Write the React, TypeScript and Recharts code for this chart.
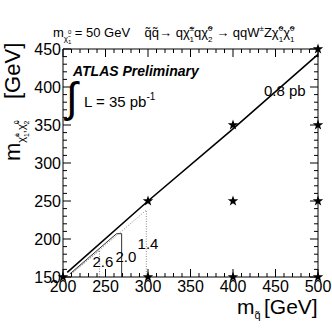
import React from "react";
import { ComposedChart, XAxis, YAxis, Line, Scatter } from "recharts";

const FONT = "'Liberation Sans', Arial, Helvetica, sans-serif";

// axis ticks (major ones carry labels)
const xMajor = [200, 250, 300, 350, 400, 450, 500];
const xTicks = [
  200, 210, 220, 230, 240, 250, 260, 270, 280, 290, 300, 310, 320, 330, 340, 350,
  360, 370, 380, 390, 400, 410, 420, 430, 440, 450, 460, 470, 480, 490, 500,
];
const yMajor = [150, 200, 250, 300, 350, 400, 450];
const yTicks = [
  150, 160, 170, 180, 190, 200, 210, 220, 230, 240, 250, 260, 270, 280, 290, 300,
  310, 320, 330, 340, 350, 360, 370, 380, 390, 400, 410, 420, 430, 440, 450,
];

// signal grid points (stars)
const gridPoints = [
  { x: 200, y: 150 },
  { x: 300, y: 150 },
  { x: 400, y: 150 },
  { x: 500, y: 150 },
  { x: 300, y: 250 },
  { x: 400, y: 250 },
  { x: 500, y: 250 },
  { x: 400, y: 350 },
  { x: 500, y: 350 },
  { x: 500, y: 450 },
];

// cross-section contours
const contour08 = [
  { x: 205, y: 156 },
  { x: 300, y: 250 },
  { x: 400, y: 345 },
  { x: 500, y: 443 },
];
const contour26 = [
  { x: 243, y: 150 },
  { x: 243, y: 185 },
  { x: 208, y: 153 },
];
const contour20 = [
  { x: 269, y: 150 },
  { x: 269, y: 207 },
  { x: 263, y: 207 },
  { x: 208, y: 154 },
];
const contour14 = [
  { x: 298, y: 150 },
  { x: 298, y: 238 },
  { x: 210, y: 154 },
];

const contourLabels = [
  { x: 247, y: 170, text: "2.6" },
  { x: 274, y: 176, text: "2.0" },
  { x: 300, y: 193, text: "1.4" },
  { x: 461, y: 395, text: "0.8 pb" },
];

const BottomTick = (props: any) => {
  const { x, y, payload } = props;
  const major = xMajor.includes(payload.value);
  return (
    <g>
      <line x1={x} x2={x} y1={y} y2={y - (major ? 8 : 4)} stroke="#000" />
      {major && (
        <text x={x} y={y + 15} textAnchor="middle" fontSize={16} fontFamily={FONT} fill="#000">
          {payload.value}
        </text>
      )}
    </g>
  );
};

const TopTick = (props: any) => {
  const { x, y, payload } = props;
  const major = xMajor.includes(payload.value);
  return <line x1={x} x2={x} y1={y} y2={y + (major ? 8 : 4)} stroke="#000" />;
};

const LeftTick = (props: any) => {
  const { x, y, payload } = props;
  const major = yMajor.includes(payload.value);
  return (
    <g>
      <line x1={x} x2={x + (major ? 8 : 4)} y1={y} y2={y} stroke="#000" />
      {major && (
        <text x={x - 2} y={y + 6} textAnchor="end" fontSize={16} fontFamily={FONT} fill="#000">
          {payload.value}
        </text>
      )}
    </g>
  );
};

const RightTick = (props: any) => {
  const { x, y, payload } = props;
  const major = yMajor.includes(payload.value);
  return <line x1={x} x2={x - (major ? 8 : 4)} y1={y} y2={y} stroke="#000" />;
};

const Star = (props: any) => {
  const { cx, cy } = props;
  const pts: string[] = [];
  for (let i = 0; i < 10; i++) {
    const r = i % 2 === 0 ? 5.5 : 2.2;
    const a = -Math.PI / 2 + (i * Math.PI) / 5;
    pts.push(`${cx + r * Math.cos(a)},${cy + r * Math.sin(a)}`);
  }
  return <polygon points={pts.join(" ")} fill="#000" />;
};

const LabelMark = (props: any) => {
  const { cx, cy, payload } = props;
  return (
    <text x={cx} y={cy} dy={5} textAnchor="middle" fontSize={15} fontFamily={FONT} fill="#000">
      {payload.text}
    </text>
  );
};

const chi = "\u03C7\u0303";
const sq = "q\u0303";

const Overlay = () => (
  <svg
    width={332}
    height={328}
    style={{ position: "absolute", left: 0, top: 0, pointerEvents: "none" }}
    fontFamily={FONT}
  >
    {/* header */}
    <text x={53} y={37} fontSize={13} style={{ whiteSpace: "pre" }}>
      <tspan>m</tspan>
      <tspan fontSize={8} y={41}>{chi}</tspan>
      <tspan fontSize={6} y={34}>0</tspan>
      <tspan fontSize={6} dx={-3.5} y={44}>1</tspan>
      <tspan y={37}>{" = 50 GeV    " + sq + sq + "\u2192 q"}</tspan>
      <tspan>{chi}</tspan>
      <tspan fontSize={8} y={31}>±</tspan>
      <tspan fontSize={8} dx={-4.6} y={42}>1</tspan>
      <tspan y={37}>q{chi}</tspan>
      <tspan fontSize={8} y={31}>0</tspan>
      <tspan fontSize={8} dx={-4.4} y={42}>2</tspan>
      <tspan y={37}>{" \u2192 qqW"}</tspan>
      <tspan fontSize={8} y={31}>±</tspan>
      <tspan y={37}>Z{chi}</tspan>
      <tspan fontSize={8} y={31}>0</tspan>
      <tspan fontSize={8} dx={-4.4} y={42}>1</tspan>
      <tspan y={37}>{chi}</tspan>
      <tspan fontSize={8} y={31}>0</tspan>
      <tspan fontSize={8} dx={-4.4} y={42}>1</tspan>
    </text>

    <text x={73} y={76} fontSize={14} fontWeight="bold" fontStyle="italic">
      ATLAS Preliminary
    </text>
    <text transform="translate(66,112) scale(1.4,1.4)" fontSize={30}>
      {"\u222B"}
    </text>
    <text x={84} y={107} fontSize={15} style={{ whiteSpace: "pre" }}>
      <tspan>L = 35 pb</tspan>
      <tspan fontSize={10} y={100}>-1</tspan>
    </text>

    {/* y title */}
    <g transform="translate(20,161) rotate(-90)">
      <text x={0} y={0} fontSize={22}>
        <tspan>m</tspan>
        <tspan fontSize={11} y={5}>{chi}</tspan>
        <tspan fontSize={7} y={-1}>±</tspan>
        <tspan fontSize={7} dx={-4} y={9}>1</tspan>
        <tspan fontSize={11} y={5}>,{chi}</tspan>
        <tspan fontSize={7} y={-1}>0</tspan>
        <tspan fontSize={7} dx={-4} y={9}>2</tspan>
        <tspan x={62} y={0}>[GeV]</tspan>
      </text>
    </g>

    {/* x title */}
    <text x={237} y={314} fontSize={21}>
      <tspan>m</tspan>
      <tspan fontSize={11} y={319}>{sq}</tspan>
      <tspan x={264} y={314}>[GeV]</tspan>
    </text>
  </svg>
);

export default function App() {
  return (
    <div style={{ position: "absolute", left: 0, top: 0, width: 332, height: 328, background: "#fff" }}>
      <ComposedChart width={332} height={328} margin={{ top: 0, right: 0, bottom: 0, left: 0 }}>
        <XAxis
          dataKey="x"
          type="number"
          domain={[200, 500]}
          ticks={xTicks}
          interval={0}
          height={51}
          tickSize={0}
          tickMargin={0}
          tickLine={false}
          tick={<BottomTick />}
          axisLine={{ stroke: "#000" }}
        />
        <XAxis
          xAxisId="top"
          orientation="top"
          dataKey="x"
          type="number"
          domain={[200, 500]}
          ticks={xTicks}
          interval={0}
          height={49}
          tickSize={0}
          tickMargin={0}
          tickLine={false}
          tick={<TopTick />}
          axisLine={{ stroke: "#000" }}
        />
        <YAxis
          dataKey="y"
          type="number"
          domain={[150, 450]}
          ticks={yTicks}
          interval={0}
          width={63}
          tickSize={0}
          tickMargin={0}
          tickLine={false}
          tick={<LeftTick />}
          axisLine={{ stroke: "#000" }}
        />
        <YAxis
          yAxisId="right"
          orientation="right"
          dataKey="y"
          type="number"
          domain={[150, 450]}
          ticks={yTicks}
          interval={0}
          width={14}
          tickSize={0}
          tickMargin={0}
          tickLine={false}
          tick={<RightTick />}
          axisLine={{ stroke: "#000" }}
        />
        <Line data={contour26} dataKey="y" type="linear" dot={false} stroke="#8a8a8a" strokeWidth={1} strokeDasharray="1 1.5" isAnimationActive={false} />
        <Line data={contour14} dataKey="y" type="linear" dot={false} stroke="#8a8a8a" strokeWidth={1} strokeDasharray="1 1.5" isAnimationActive={false} />
        <Line data={contour20} dataKey="y" type="linear" dot={false} stroke="#333" strokeWidth={1} isAnimationActive={false} />
        <Line data={contour08} dataKey="y" type="linear" dot={false} stroke="#000" strokeWidth={1.6} isAnimationActive={false} />
        <Scatter data={contourLabels} dataKey="y" shape={<LabelMark />} isAnimationActive={false} />
        <Scatter
          data={gridPoints}
          dataKey="y"
          xAxisId="top"
          yAxisId="right"
          shape={<Star />}
          isAnimationActive={false}
        />
      </ComposedChart>
      <Overlay />
    </div>
  );
}
